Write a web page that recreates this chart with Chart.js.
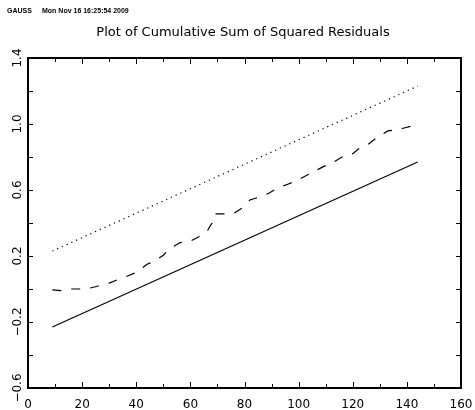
<!DOCTYPE html>
<html>
<head>
<meta charset="utf-8">
<script src="https://cdn.jsdelivr.net/npm/chart.js@4"></script>
<style>
  html, body { margin: 0; padding: 0; background: #fff; }
  #wrap { width: 475px; height: 410px; }
</style>
</head>
<body>
<div id="wrap"><canvas id="c" width="475" height="410"></canvas></div>
<script>
// ---- data ----
const headerLeft = 'GAUSS';
const headerRight = 'Mon Nov 16 16:25:54 2009';
const titleText = 'Plot of Cumulative Sum of Squared Residuals';

const cusumX = [9, 12, 16, 19, 23, 26, 30, 33, 37, 40, 44, 47, 50, 52, 53, 56, 60, 63, 66, 68, 69, 73, 76, 80, 82, 86, 89, 92, 96, 99, 102, 106, 109, 113, 116, 120, 123, 126, 129, 133, 136, 139, 142, 144];
const cusumY = [-0.005, -0.01, 0.0, 0.0, 0.006, 0.018, 0.036, 0.055, 0.08, 0.10, 0.15, 0.17, 0.205, 0.24, 0.25, 0.28, 0.29, 0.315, 0.345, 0.40, 0.455, 0.455, 0.458, 0.50, 0.54, 0.56, 0.58, 0.61, 0.635, 0.655, 0.68, 0.715, 0.74, 0.77, 0.80, 0.82, 0.86, 0.88, 0.92, 0.958, 0.964, 0.976, 0.988, 1.0];

const boundX = [9, 144];
const lowerY = [-0.23, 0.77];
const upperY = [0.23, 1.23];

const xTicks = [0, 20, 40, 60, 80, 100, 120, 140, 160];
const xTickLabels = ['0', '20', '40', '60', '80', '100', '120', '140', '160'];
const yTicks = [-0.6, -0.2, 0.2, 0.6, 1.0, 1.4];
const yTickLabels = ['\u22120.6', '\u22120.2', '0.2', '0.6', '1.0', '1.4'];
const xMinorStep = 10;
const yMinorStep = 0.2;

const pts = (xs, ys) => xs.map((x, i) => ({ x: x, y: ys[i] }));

const framePlugin = {
  id: 'frame',
  afterDatasetsDraw(chart) {
    const ctx = chart.ctx;
    const a = chart.chartArea;
    const xs = chart.scales.x, ys = chart.scales.y;
    ctx.save();
    ctx.strokeStyle = '#000';
    ctx.lineWidth = 1;
    ctx.beginPath();
    for (let v = xs.min; v <= xs.max + 1e-9; v += xMinorStep) {
      const px = Math.round(xs.getPixelForValue(v)) + 0.5;
      const major = Math.abs((v / 20) - Math.round(v / 20)) < 1e-6;
      const len = major ? 6 : 4;
      ctx.moveTo(px, a.bottom); ctx.lineTo(px, a.bottom - len);
      ctx.moveTo(px, a.top); ctx.lineTo(px, a.top + len);
    }
    for (let v = ys.min; v <= ys.max + 1e-9; v += yMinorStep) {
      const py = Math.round(ys.getPixelForValue(v)) + 0.5;
      const len = 5;
      ctx.moveTo(a.left, py); ctx.lineTo(a.left + len, py);
      ctx.moveTo(a.right, py); ctx.lineTo(a.right - len, py);
    }
    ctx.stroke();
    ctx.lineWidth = 2;
    ctx.strokeRect(a.left, a.top, a.right - a.left, a.bottom - a.top);
    ctx.fillStyle = '#000';
    ctx.textBaseline = 'middle';
    ctx.textAlign = 'left';
    ctx.font = 'bold 7px "Liberation Sans"';
    ctx.fillText(headerLeft, 7, 11);
    ctx.fillText(headerRight, 42, 11);
    ctx.font = '13px "DejaVu Sans"';
    ctx.textAlign = 'center';
    ctx.fillText(titleText, 243, 33);
    ctx.restore();
  }
};

new Chart(document.getElementById('c'), {
  type: 'line',
  data: {
    datasets: [
      { data: pts(cusumX, cusumY), borderColor: '#000', borderWidth: 1.2, borderDash: [9, 10], pointRadius: 0, tension: 0, fill: false },
      { data: pts(boundX, lowerY), borderColor: '#000', borderWidth: 1.2, pointRadius: 0, fill: false },
      { data: pts(boundX, upperY), borderColor: '#000', borderWidth: 1.2, borderDash: [1.2, 4], pointRadius: 0, fill: false }
    ]
  },
  options: {
    responsive: false,
    animation: false,
    events: [],
    layout: { padding: { top: 58, right: 14, left: 0, bottom: 0 } },
    plugins: { legend: { display: false }, title: { display: false }, tooltip: { enabled: false } },
    scales: {
      x: {
        type: 'linear', min: 0, max: 160,
        grid: { display: false }, border: { display: false },
        afterBuildTicks: s => { s.ticks = xTicks.map(v => ({ value: v })); },
        afterFit: s => { s.height = 22; },
        ticks: {
          color: '#000', padding: 2, maxRotation: 0, autoSkip: false,
          font: { family: 'DejaVu Sans', size: 12 },
          callback: (v, i) => xTickLabels[i]
        }
      },
      y: {
        type: 'linear', min: -0.6, max: 1.4,
        grid: { display: false }, border: { display: false },
        afterBuildTicks: s => { s.ticks = yTicks.map(v => ({ value: v })); },
        afterFit: s => { s.width = 28; },
        ticks: {
          color: '#000', padding: -12, minRotation: 90, maxRotation: 90, autoSkip: false,
          crossAlign: 'center',
          font: { family: 'DejaVu Sans', size: 12 },
          callback: (v, i) => yTickLabels[i]
        }
      }
    }
  },
  plugins: [framePlugin]
});
</script>
</body>
</html>
